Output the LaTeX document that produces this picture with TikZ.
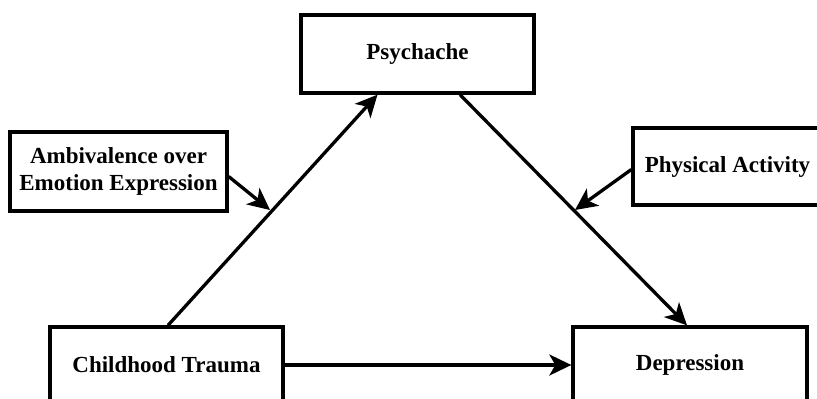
\documentclass[tikz,border=0pt]{standalone}
\usepackage{fontspec}
\setmainfont{Liberation Serif}
\usetikzlibrary{arrows.meta}
\tikzset{
  box/.style={draw, line width=3.3pt, rectangle, align=center,
    font=\fontsize{23}{27.5}\selectfont\bfseries, inner sep=0pt},
  conn/.style={line width=3.3pt, -{Stealth[length=22pt,width=21pt,inset=6pt]}}
}
\begin{document}
\begin{tikzpicture}[x=1pt,y=-1pt]
\useasboundingbox (0,0) rectangle (817,399);
\fill[white] (0,0) rectangle (817,399);
\node[box, minimum width=233pt, minimum height=78pt] (ps) at (417.5,54) {Psychache};
\node[box, minimum width=217pt, minimum height=79pt] (amb) at (118.5,171.5) {Ambivalence over\\Emotion Expression};
\node[box, minimum width=189pt, minimum height=77pt] (pa) at (727.5,166.5) {Physical Activity};
\node[box, minimum width=233pt, minimum height=76pt] (ct) at (166.5,365) {Childhood Trauma};
\node[box, minimum width=234pt, minimum height=76pt] (dep) at (690,365) {Depression};
\coordinate (m1) at (270,210);
\coordinate (m2) at (575,210);
\draw[conn] ([xshift=1.5pt]ct.north) -- ([xshift=-40pt]ps.south);
\draw[conn] ([xshift=42.5pt]ps.south) -- ([xshift=-3pt]dep.north);
\draw[conn] (ct.east) -- (dep.west);
\draw[conn] ([yshift=-5pt]amb.east) -- (m1);
\draw[conn] ([yshift=-3pt]pa.west) -- (m2);
\end{tikzpicture}
\end{document}
